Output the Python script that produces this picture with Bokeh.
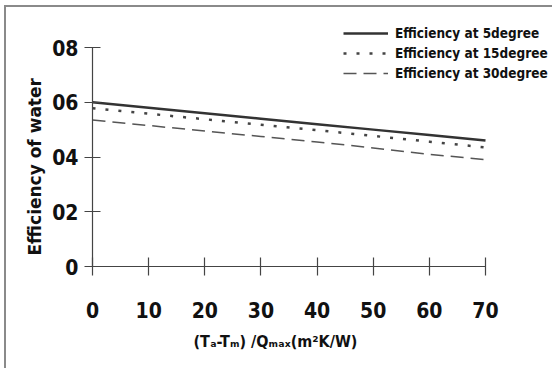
from bokeh.plotting import figure
from bokeh.models import Range1d, FixedTicker, Legend, LegendItem, Title
from bokeh.embed import file_html
from bokeh.resources import INLINE

x_vals = [0, 10, 20, 30, 40, 50, 60, 70]
eff_5deg = [0.600, 0.580, 0.560, 0.540, 0.520, 0.500, 0.480, 0.460]
eff_15deg = [0.578, 0.558, 0.538, 0.518, 0.498, 0.477, 0.456, 0.435]
eff_30deg = [0.535, 0.515, 0.495, 0.475, 0.455, 0.433, 0.410, 0.390]
series_names = ["Efficiency at 5degree", "Efficiency at 15degree", "Efficiency at 30degree"]
x_ticks = [0, 10, 20, 30, 40, 50, 60, 70]
y_ticks = [0, 0.2, 0.4, 0.6, 0.8]
y_tick_labels = ["0", "02", "04", "06", "08"]
x_title = "(Tₐ-Tₘ) /Qₘₐₓ(m²K/W)"
y_title = "Efficiency of water"

FONT = "DejaVu Sans Condensed, Roboto"

# axes run 0-70 and 0-0.8; the plotting area is extended so the legend can sit above/right
X_END = 70 * 462 / 393
Y_END = 0.8 * 251 / 219

p = figure(width=548, height=363, output_backend="svg", toolbar_location=None,
           x_range=Range1d(0, X_END), y_range=Range1d(0, Y_END),
           min_border_left=86, min_border_top=8, min_border_right=0, min_border_bottom=104,
           background_fill_color="white", border_fill_color="white")
p.styles = {"margin-left": "4px", "margin-top": "5px",
            "border-left": "2px solid #8a8a8a", "border-top": "2px solid #8a8a8a"}
p.outline_line_color = None
p.grid.visible = False

r1 = p.line(x_vals, eff_5deg, line_color="#333333", line_width=2.5)
r2 = p.line(x_vals, eff_15deg, line_color="#444444", line_width=2.5, line_dash="3 10")
r3 = p.line(x_vals, eff_30deg, line_color="#555555", line_width=1.5, line_dash="13 7")

for ax in (p.xaxis[0], p.yaxis[0]):
    ax.axis_line_color = "#444444"
    ax.axis_line_width = 1.2
    ax.major_tick_line_color = "#444444"
    ax.major_tick_line_width = 1.2
    ax.minor_tick_line_color = None
    ax.major_label_text_font = FONT
    ax.major_label_text_font_style = "bold"
    ax.major_label_text_color = "#111111"

p.xaxis.bounds = (0, 70)
p.xaxis.ticker = FixedTicker(ticks=x_ticks)
p.xaxis.major_tick_in = 9
p.xaxis.major_tick_out = 9
p.xaxis.major_label_text_font_size = "21px"
p.xaxis.major_label_standoff = 26

p.yaxis.bounds = (0, 0.8)
p.yaxis.ticker = FixedTicker(ticks=y_ticks)
p.yaxis.major_label_overrides = {t: l for t, l in zip(y_ticks, y_tick_labels)}
p.yaxis.major_tick_in = 8
p.yaxis.major_tick_out = 8
p.yaxis.major_label_text_font_size = "21px"
p.yaxis.major_label_standoff = 6

xt = Title(text=x_title, align="left", offset=101, standoff=22, vertical_align="top",
           text_font=FONT, text_font_size="16px", text_font_style="bold", text_color="#111111")
p.add_layout(xt, "below")
yt = Title(text=y_title, align="left", offset=11, standoff=10,
           text_font="DejaVu Sans", text_font_size="17px", text_font_style="bold", text_color="#111111")
p.add_layout(yt, "left")

legend = Legend(items=[LegendItem(label=series_names[0], renderers=[r1]),
                       LegendItem(label=series_names[1], renderers=[r2]),
                       LegendItem(label=series_names[2], renderers=[r3])],
                location=(251, 183), orientation="vertical")
legend.label_text_font = FONT
legend.label_text_font_style = "bold"
legend.label_text_font_size = "13.5px"
legend.label_text_color = "#111111"
legend.glyph_width = 45
legend.glyph_height = 20
legend.label_height = 20
legend.label_standoff = 7
legend.spacing = 0
legend.padding = 0
legend.margin = 0
legend.border_line_color = None
legend.background_fill_alpha = 0
p.add_layout(legend, "center")

open("out.html", "w").write(file_html(p, INLINE))
